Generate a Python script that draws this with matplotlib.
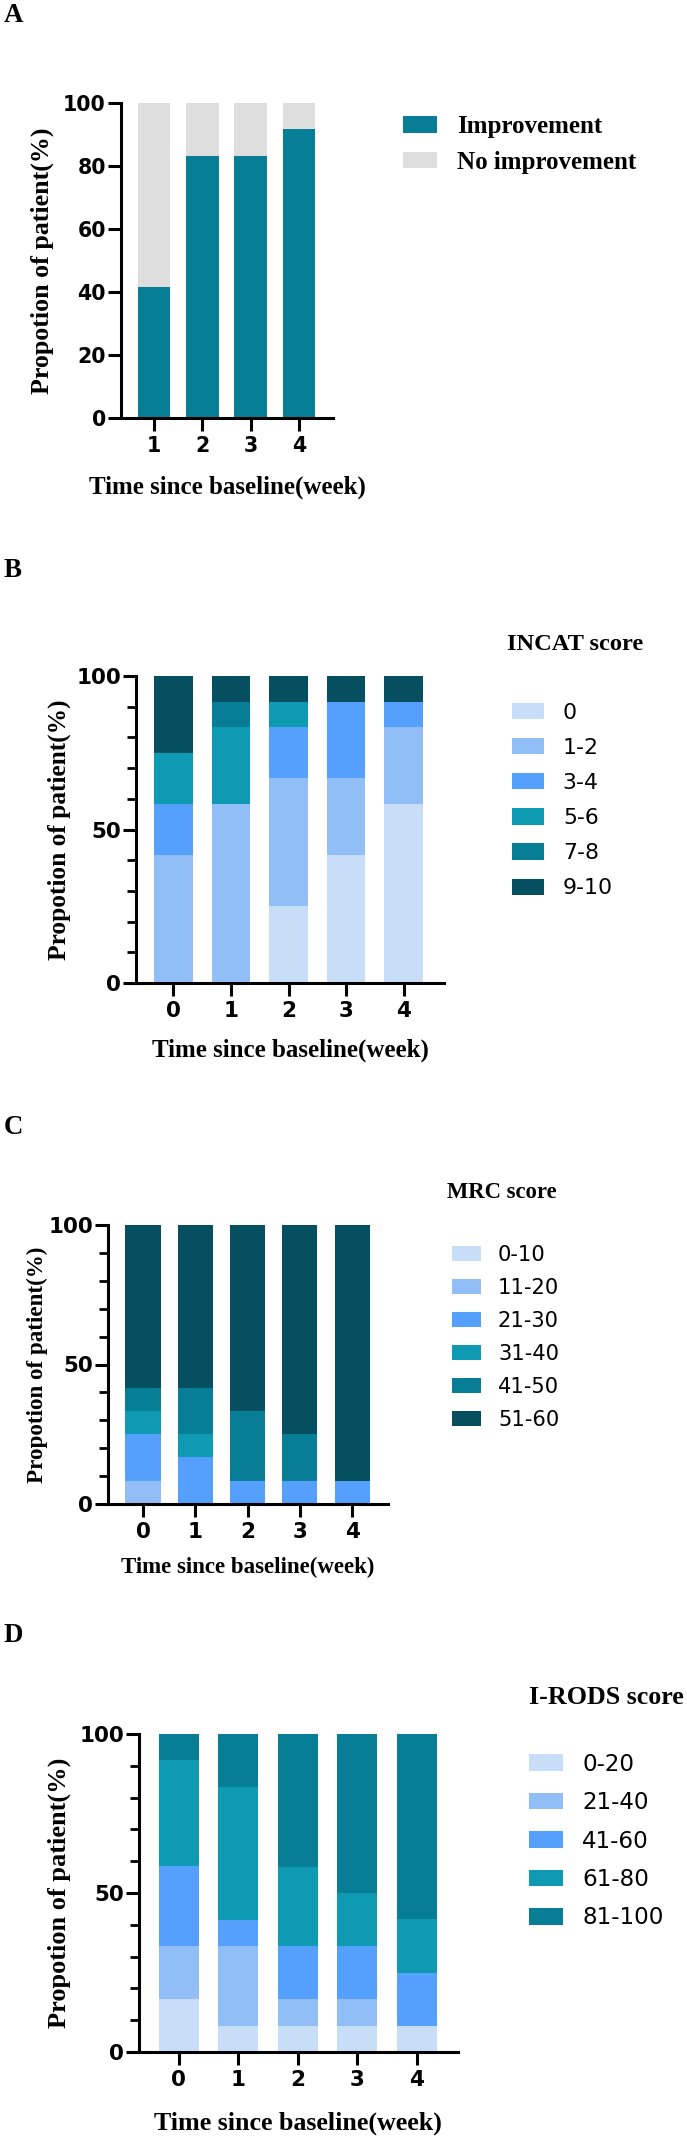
import numpy as np
import matplotlib
matplotlib.use('Agg')
import matplotlib.pyplot as plt

# data (percent of 12 patients)
weeks_a = [1, 2, 3, 4]
improvement = [41.67, 83.33, 83.33, 91.67]
no_improvement = [58.33, 16.67, 16.67, 8.33]

weeks = [0, 1, 2, 3, 4]

incat_labels = ['0', '1-2', '3-4', '5-6', '7-8', '9-10']
incat_0 = [0, 0, 25.0, 41.67, 58.33]
incat_1_2 = [41.67, 58.33, 41.67, 25.0, 25.0]
incat_3_4 = [16.67, 0, 16.67, 25.0, 8.33]
incat_5_6 = [16.67, 25.0, 8.33, 0, 0]
incat_7_8 = [0, 8.33, 0, 0, 0]
incat_9_10 = [25.0, 8.33, 8.33, 8.33, 8.33]

mrc_labels = ['0-10', '11-20', '21-30', '31-40', '41-50', '51-60']
mrc_0_10 = [0, 0, 0, 0, 0]
mrc_11_20 = [8.33, 0, 0, 0, 0]
mrc_21_30 = [16.67, 16.67, 8.33, 8.33, 8.33]
mrc_31_40 = [8.33, 8.33, 0, 0, 0]
mrc_41_50 = [8.33, 16.67, 25.0, 16.67, 0]
mrc_51_60 = [58.33, 58.33, 66.67, 75.0, 91.67]

irods_labels = ['0-20', '21-40', '41-60', '61-80', '81-100']
irods_0_20 = [16.67, 8.33, 8.33, 8.33, 8.33]
irods_21_40 = [16.67, 25.0, 8.33, 8.33, 0]
irods_41_60 = [25.0, 8.33, 16.67, 16.67, 16.67]
irods_61_80 = [33.33, 41.67, 25.0, 16.67, 16.67]
irods_81_100 = [8.33, 16.67, 41.67, 50.0, 58.33]

# colours
pale = '#C8DDF8'
light = '#92BEF8'
mid = '#55A0FC'
teal = '#0F9AB3'
dteal = '#087E96'
navy = '#064F60'
grey = '#DEDEDE'

W, H = 687, 2138
SERIF = 'Liberation Serif'

fig = plt.figure(figsize=(W / 100, H / 100), dpi=100)


def fx(x):
    return x / W


def fy(y):
    return 1 - y / H


def make_axes(left, top, right, bottom):
    return fig.add_axes([fx(left), fy(bottom), (right - left) / W, (bottom - top) / H])


def stacked(ax, x, series, colors, labels):
    bottom = np.zeros(len(x))
    for vals, col, lab in zip(series, colors, labels):
        vals = np.array(vals, dtype=float)
        ax.bar(x, vals, 0.67, bottom=bottom, color=col, label=lab, linewidth=0)
        bottom += vals


def style(ax, xticks, xlim, yticks, minor, ticksize):
    ax.set_xlim(xlim)
    ax.set_ylim(0, 100)
    for s in ['top', 'right']:
        ax.spines[s].set_visible(False)
    for s in ['left', 'bottom']:
        ax.spines[s].set_linewidth(2.2)
    ax.set_xticks(xticks)
    ax.set_yticks(yticks)
    ax.set_yticks(minor, minor=True)
    ax.tick_params(which='major', length=9.4, width=2.2, labelsize=ticksize)
    ax.tick_params(axis='x', pad=3.6)
    ax.tick_params(axis='y', pad=1.5)
    ax.tick_params(which='minor', length=6.5, width=2.0)
    ax.tick_params(axis='x', which='minor', bottom=False)
    for lab in ax.get_xticklabels() + ax.get_yticklabels():
        lab.set_fontweight('bold')


def serif_text(x, y, s, size, **kw):
    fig.text(fx(x), fy(y), s, family=SERIF, weight='bold', fontsize=size, **kw)


# ---------- A ----------
axA = make_axes(121, 103, 333, 418)
stacked(axA, weeks_a, [improvement, no_improvement], [dteal, grey],
        ['Improvement', 'No improvement'])
style(axA, weeks_a, (0.317, 4.704), [0, 20, 40, 60, 80, 100], [], 14.8)
axA.legend(loc='center left', bbox_to_anchor=(fx(403), fy(144.5)), bbox_transform=fig.transFigure,
           frameon=False, prop=dict(family=SERIF, weight='bold', size=18),
           handlelength=34 / 25, handleheight=16 / 25, handletextpad=20 / 25,
           labelspacing=0.49, borderpad=0, borderaxespad=0)
serif_text(4, 16, 'A', 19.4, ha='left', va='center')
serif_text(42, 260.5, 'Propotion of patient(%)', 18.7, rotation=90, ha='center', va='center')
serif_text(227, 487, 'Time since baseline(week)', 18, ha='center', va='center')

# ---------- B ----------
axB = make_axes(136, 676, 444, 983)
stacked(axB, weeks, [incat_0, incat_1_2, incat_3_4, incat_5_6, incat_7_8, incat_9_10],
        [pale, light, mid, teal, dteal, navy], incat_labels)
style(axB, weeks, (-0.652, 4.704), [0, 50, 100], [10, 20, 30, 40, 60, 70, 80, 90], 15.5)
axB.legend(loc='center left', bbox_to_anchor=(fx(512), fy(800.5)), bbox_transform=fig.transFigure,
           frameon=False, fontsize=15.8,
           handlelength=32 / 22, handleheight=17 / 22, handletextpad=19 / 22,
           labelspacing=0.69, borderpad=0, borderaxespad=0)
serif_text(4, 571, 'B', 19.4, ha='left', va='center')
serif_text(507, 645, 'INCAT score', 17.6, ha='left', va='center')
serif_text(59, 830, 'Propotion of patient(%)', 18.3, rotation=90, ha='center', va='center')
serif_text(290, 1050, 'Time since baseline(week)', 18, ha='center', va='center')

# ---------- C ----------
axC = make_axes(108, 1225, 388, 1504)
stacked(axC, weeks, [mrc_0_10, mrc_11_20, mrc_21_30, mrc_31_40, mrc_41_50, mrc_51_60],
        [pale, light, mid, teal, dteal, navy], mrc_labels)
style(axC, weeks, (-0.669, 4.685), [0, 50, 100], [10, 20, 30, 40, 60, 70, 80, 90], 15.5)
axC.legend(loc='center left', bbox_to_anchor=(fx(452), fy(1337.5)), bbox_transform=fig.transFigure,
           frameon=False, fontsize=15.1,
           handlelength=29 / 21, handleheight=15 / 21, handletextpad=17 / 21,
           labelspacing=0.62, borderpad=0, borderaxespad=0)
serif_text(4, 1127, 'C', 19.4, ha='left', va='center')
serif_text(447, 1192, 'MRC score', 16.3, ha='left', va='center')
serif_text(37, 1365, 'Propotion of patient(%)', 16.6, rotation=90, ha='center', va='center')
serif_text(248, 1567, 'Time since baseline(week)', 16.5, ha='center', va='center')

# ---------- D ----------
axD = make_axes(139, 1734, 458, 2052)
stacked(axD, weeks, [irods_0_20, irods_21_40, irods_41_60, irods_61_80, irods_81_100],
        [pale, light, mid, teal, dteal], irods_labels)
style(axD, weeks, (-0.667, 4.694), [0, 50, 100], [10, 20, 30, 40, 60, 70, 80, 90], 15.5)
axD.legend(loc='center left', bbox_to_anchor=(fx(529), fy(1841)), bbox_transform=fig.transFigure,
           frameon=False, fontsize=16.6,
           handlelength=34 / 23, handleheight=17 / 23, handletextpad=19 / 23,
           labelspacing=0.67, borderpad=0, borderaxespad=0)
serif_text(4, 1635, 'D', 19.4, ha='left', va='center')
serif_text(529, 1697, 'I-RODS score', 18.7, ha='left', va='center')
serif_text(59, 1893, 'Propotion of patient(%)', 19, rotation=90, ha='center', va='center')
serif_text(298, 2123, 'Time since baseline(week)', 18.7, ha='center', va='center')

fig.savefig('out.png', dpi=100)
